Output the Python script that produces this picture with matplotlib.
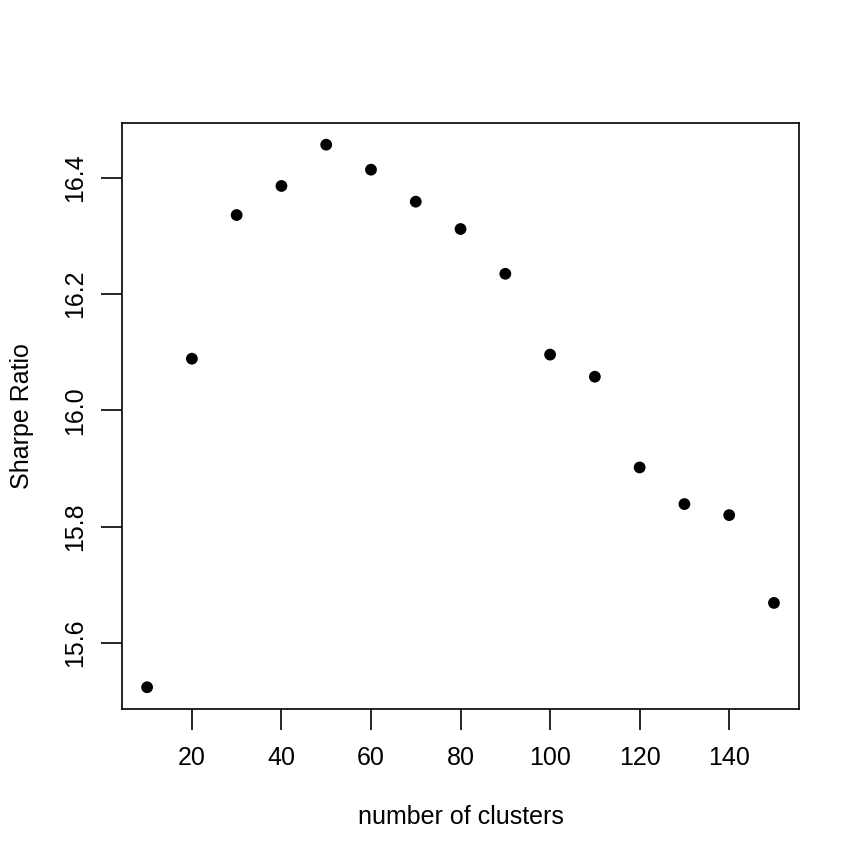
import matplotlib.pyplot as plt

plt.rcParams['font.family'] = ['Liberation Sans', 'DejaVu Sans']

# Sharpe ratio by number of clusters
clusters = [10, 20, 30, 40, 50, 60, 70, 80, 90, 100, 110, 120, 130, 140, 150]
sharpe = [15.524, 16.089, 16.336, 16.386, 16.457, 16.414, 16.359, 16.312,
          16.235, 16.096, 16.058, 15.902, 15.839, 15.820, 15.669]
xticks = [20, 40, 60, 80, 100, 120, 140]
yticks = [15.6, 15.8, 16.0, 16.2, 16.4]

fig = plt.figure(figsize=(8.63, 8.63), dpi=100)
ax = fig.add_axes([0.1414, 0.1785, 0.7845, 0.679])

ax.scatter(clusters, sharpe, s=72, c='black', edgecolors='none', zorder=3)

# R-style 4% padding on both axes
xr = max(clusters) - min(clusters)
yr = max(sharpe) - min(sharpe)
ax.set_xlim(min(clusters) - 0.04 * xr, max(clusters) + 0.04 * xr)
ax.set_ylim(min(sharpe) - 0.04 * yr, max(sharpe) + 0.04 * yr)

ax.set_xticks(xticks)
ax.set_yticks(yticks)
ax.set_xticklabels([str(t) for t in xticks])
ax.set_yticklabels(['%.1f' % t for t in yticks], rotation=90, va='center')
ax.tick_params(direction='out', length=15, width=1.2, labelsize=18)
ax.tick_params(axis='x', pad=12)
ax.tick_params(axis='y', pad=10)

for s in ax.spines.values():
    s.set_linewidth(1.2)

ax.set_xlabel('number of clusters', fontsize=18, labelpad=25)
ax.set_ylabel('Sharpe Ratio', fontsize=18, labelpad=21)

fig.savefig('out.png', dpi=100)
